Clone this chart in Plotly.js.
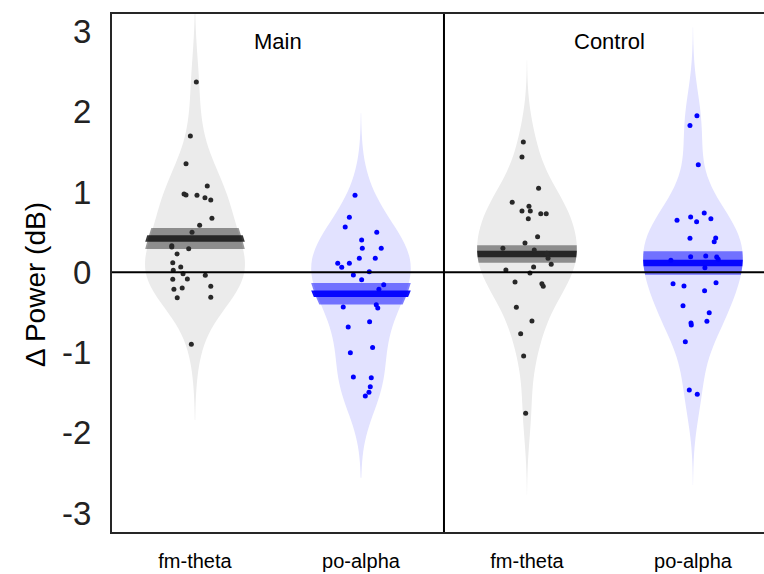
<!DOCTYPE html>
<html>
<head>
<meta charset="utf-8">
<script src="https://cdn.plot.ly/plotly-3.0.1.min.js"></script>
<style>
html, body { margin: 0; padding: 0; background: #fff; overflow: hidden; }
#chart { width: 764px; height: 574px; }
</style>
</head>
<body>
<div id="chart"></div>
<script>
// ---- data ----
const categories = ['fm-theta', 'po-alpha', 'fm-theta', 'po-alpha'];
const panelTitles = ['Main', 'Control'];

const fmMain = [2.368, 1.696, 1.352, 1.074, 0.974, 0.962, 0.958, 0.928, 0.900, 0.672, 0.585, 0.498, 0.331, 0.315, 0.294,
                0.228, 0.119, 0.066, 0.025, -0.017, -0.037, -0.087, -0.083, -0.174, -0.212, -0.195, -0.316, -0.311, -0.896];
const fmMainJit = [0.008, -0.028, -0.054, 0.074, -0.066, -0.054, 0.012, 0.060, 0.095, 0.102, 0.028, -0.018, -0.140, -0.140, -0.038,
                   -0.108, -0.134, -0.086, -0.131, -0.072, 0.062, -0.134, -0.046, 0.095, -0.127, -0.077, -0.107, 0.095, -0.022];

const poMain = [0.958, 0.684, 0.564, 0.498, 0.402, 0.299, 0.299, 0.174, 0.174, 0.112, 0.112, 0.062, 0.008, -0.034, -0.092,
                -0.154, -0.212, -0.432, -0.403, -0.444, -0.681, -0.615, -1.001, -0.938, -1.303, -1.312, -1.424, -1.493, -1.540];
const poMainJit = [-0.036, -0.070, -0.095, 0.095, 0.004, 0.008, 0.122, -0.010, 0.086, -0.140, -0.070, -0.116, 0.050, -0.046, 0.004,
                   0.137, 0.108, -0.107, 0.092, 0.101, -0.077, 0.052, -0.064, 0.070, -0.046, 0.062, 0.056, 0.048, 0.026];

const fmCtrl = [1.622, 1.435, 1.045, 0.871, 0.821, 0.763, 0.763, 0.729, 0.729, 0.667, 0.443, 0.365, 0.299, 0.278, 0.236,
                0.174, 0.100, 0.066, 0.029, -0.009, -0.121, -0.142, -0.174, -0.436, -0.606, -0.764, -1.042, -1.755];
const fmCtrlJit = [-0.022, -0.030, 0.070, -0.089, 0.012, -0.030, 0.020, 0.083, 0.116, 0.008, 0.064, -0.012, -0.145, 0.044, 0.120,
                   0.127, 0.146, 0.040, -0.127, 0.018, -0.072, 0.090, 0.098, -0.064, 0.030, -0.038, -0.020, -0.008];

const poCtrl = [1.949, 1.829, 1.339, 0.738, 0.688, 0.667, 0.647, 0.630, 0.423, 0.427, 0.381, 0.194, 0.203, 0.190, 0.162,
                0.149, 0.057, -0.142, -0.171, -0.129, -0.229, -0.416, -0.503, -0.631, -0.656, -0.610, -0.864, -1.465, -1.518];
const poCtrlJit = [0.024, -0.018, 0.032, 0.068, -0.014, 0.108, -0.096, 0.022, -0.018, 0.137, 0.128, -0.014, 0.077, 0.143, 0.152,
                   -0.133, 0.072, -0.120, -0.054, 0.139, 0.070, -0.060, 0.098, -0.012, -0.010, 0.084, -0.046, -0.022, 0.026];

const means = [0.42, -0.268, 0.228, 0.116];
const sems = [0.13, 0.133, 0.108, 0.147];
const spans = [[-1.84, 3.35], [-2.56, 1.98], [-2.77, 2.64], [-2.65, 3.05]];
const bandwidths = [0.40, 0.40, 0.38, 0.40];

// ---- styles ----
const series = [
  {y: fmMain, jit: fmMainJit, fill: 'rgb(235,235,235)', light: 'rgba(0,0,0,0.40)', dark: 'rgba(20,20,20,0.85)', pt: 'rgb(40,40,40)'},
  {y: poMain, jit: poMainJit, fill: 'rgb(226,226,255)', light: 'rgba(0,0,255,0.50)', dark: 'rgba(0,0,255,0.95)', pt: 'rgb(0,0,255)'},
  {y: fmCtrl, jit: fmCtrlJit, fill: 'rgb(235,235,235)', light: 'rgba(0,0,0,0.40)', dark: 'rgba(20,20,20,0.85)', pt: 'rgb(40,40,40)'},
  {y: poCtrl, jit: poCtrlJit, fill: 'rgb(226,226,255)', light: 'rgba(0,0,255,0.50)', dark: 'rgba(0,0,255,0.95)', pt: 'rgb(0,0,255)'}
];
const VW = 0.6;      // violin full width (x units)
const DARK_HALF = 0.04;

const traces = [];
series.forEach((s, i) => {
  const pos = i + 1;
  const base = {
    type: 'violin', y: s.y, x0: pos, width: VW, points: false,
    bandwidth: bandwidths[i], scalemode: 'width', scalegroup: 'g' + i,
    spanmode: 'manual', hoverinfo: 'skip', showlegend: false,
    line: {width: 0, color: 'rgba(0,0,0,0)'}
  };
  traces.push(Object.assign({}, base, {span: spans[i], fillcolor: s.fill}));
  traces.push({
    type: 'scatter', mode: 'markers', x: s.jit.map(d => pos + d), y: s.y,
    marker: {size: 5, color: s.pt}, hoverinfo: 'skip', showlegend: false, cliponaxis: true
  });
  traces.push(Object.assign({}, base, {span: [means[i] - sems[i], means[i] + sems[i]], fillcolor: s.light}));
  traces.push(Object.assign({}, base, {span: [means[i] - DARK_HALF, means[i] + DARK_HALF], fillcolor: s.dark}));
});

const FONT = '"Liberation Sans", Arial, Helvetica, sans-serif';
const frameColor = '#262626';

const layout = {
  width: 764, height: 574,
  margin: {l: 112, r: 0, t: 14, b: 42, pad: 0},
  paper_bgcolor: '#fff', plot_bgcolor: '#fff',
  font: {family: FONT, color: '#000'},
  showlegend: false,
  violinmode: 'overlay',
  xaxis: {
    range: [0.5, 4.428], tickmode: 'array', tickvals: [1, 2, 3, 4], ticktext: categories,
    showgrid: false, zeroline: false, showline: true, mirror: true, linecolor: frameColor, linewidth: 2,
    ticks: '', tickfont: {size: 20, family: FONT, color: '#000'}, ticklabelstandoff: 10, fixedrange: true
  },
  yaxis: {
    range: [-3.234, 3.216], tickmode: 'array', tickvals: [-3, -2, -1, 0, 1, 2, 3],
    ticktext: ['-3', '-2', '-1', '0', '1', '2', '3'],
    showgrid: false, zeroline: false, showline: true, mirror: false, linecolor: frameColor, linewidth: 2,
    ticks: '', tickfont: {size: 33, family: FONT, color: '#222'}, ticklabelstandoff: 12, fixedrange: true
  },
  shapes: [
    {type: 'line', xref: 'paper', yref: 'y', x0: 0, x1: 1, y0: 0, y1: 0, line: {color: '#000', width: 2}, layer: 'above'},
    {type: 'line', xref: 'x', yref: 'paper', x0: 2.5, x1: 2.5, y0: 0, y1: 1, line: {color: '#000', width: 2}, layer: 'above'}
  ],
  annotations: [
    {text: panelTitles[0], x: 1.5, xref: 'x', y: 0.946, yref: 'paper', showarrow: false, xanchor: 'center', yanchor: 'middle',
     font: {size: 22, family: FONT, color: '#000'}},
    {text: panelTitles[1], x: 3.5, xref: 'x', y: 0.946, yref: 'paper', showarrow: false, xanchor: 'center', yanchor: 'middle',
     font: {size: 22, family: FONT, color: '#000'}},
    {text: 'Δ Power (dB)', textangle: -90, xref: 'paper', x: (35 - 112) / 652, yref: 'paper', y: (532 - 285) / 518,
     showarrow: false, xanchor: 'center', yanchor: 'middle', font: {size: 28, family: FONT, color: '#000'}}
  ]
};

Plotly.newPlot('chart', traces, layout, {displayModeBar: false, staticPlot: true});
</script>
</body>
</html>
